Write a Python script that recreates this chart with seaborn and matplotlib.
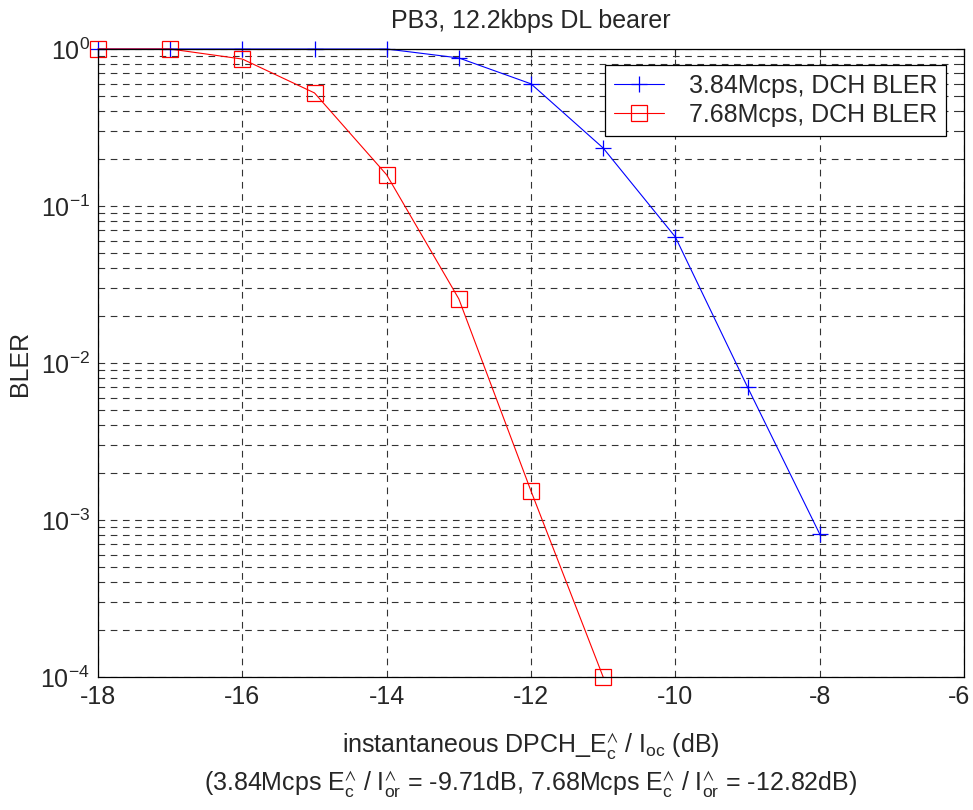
import matplotlib
matplotlib.use("Agg")
import matplotlib.pyplot as plt
import matplotlib.ticker as mticker
import matplotlib.transforms as mtransforms
import numpy as np
import pandas as pd
import seaborn as sns

# data
ecio = [-18, -17, -16, -15, -14, -13, -12, -11, -10, -9, -8]
bler_384 = [1.0, 1.0, 1.0, 1.0, 1.0, 0.877, 0.60, 0.234, 0.0635, 0.00703, 0.000815]

ecio_768 = [-18, -17, -16, -15, -14, -13, -12, -11]
bler_768 = [1.0, 1.0, 0.863, 0.525, 0.158, 0.0256, 0.00153, 0.0001]

label_384 = '3.84Mcps, DCH BLER'
label_768 = '7.68Mcps, DCH BLER'

df = pd.concat([
    pd.DataFrame({'x': ecio, 'y': bler_384, 'series': label_384}),
    pd.DataFrame({'x': ecio_768, 'y': bler_768, 'series': label_768}),
])

sns.set_style("white")
plt.rcParams['font.family'] = ['Liberation Sans', 'DejaVu Sans']
plt.rcParams['mathtext.fontset'] = 'custom'
plt.rcParams['mathtext.rm'] = 'Liberation Sans'
plt.rcParams['mathtext.it'] = 'Liberation Sans'
plt.rcParams['axes.unicode_minus'] = False

FS = 18

fig = plt.figure(figsize=(9.73, 8.10), dpi=100)
ax = fig.add_axes([98 / 973, 1 - 677 / 810, (964 - 98) / 973, (677 - 49) / 810])

sns.lineplot(data=df[df['series'] == label_384], x='x', y='y', ax=ax,
             color='blue', lw=0.8, marker='+', markersize=11, mew=0.9,
             markeredgecolor='blue', clip_on=False, label=label_384)
sns.lineplot(data=df[df['series'] == label_768], x='x', y='y', ax=ax,
             color='red', lw=0.8, marker='s', markersize=11, mew=0.9,
             markerfacecolor='none', markeredgecolor='red', clip_on=False,
             label=label_768)

ax.set_yscale('log')
ax.set_xlim(-18, -6)
ax.set_ylim(1e-4, 1)
ax.set_xticks(np.arange(-18, -5, 2))
ax.yaxis.set_major_locator(mticker.LogLocator(base=10, numticks=10))
ax.yaxis.set_minor_locator(mticker.LogLocator(base=10, subs=np.arange(2, 10), numticks=20))
ax.yaxis.set_minor_formatter(mticker.NullFormatter())
ax.yaxis.set_major_formatter(mticker.FuncFormatter(lambda v, p: r'$\mathregular{10^{%d}}$' % round(np.log10(v))))

ax.grid(True, which='both', color='#333333', linestyle=(0, (6, 5)), linewidth=0.8)
ax.tick_params(which='both', direction='in', top=True, right=True, labelsize=FS, width=0.8)
ax.tick_params(which='major', length=6, pad=6)
ax.tick_params(which='minor', length=3)
for s in ax.spines.values():
    s.set_color('black')
    s.set_linewidth(0.9)

# keep the last x tick label inside the figure
last = ax.get_xticklabels()[-1]
last.set_transform(last.get_transform() + mtransforms.ScaledTranslation(-5 / 100, 0, fig.dpi_scale_trans))

ax.set_title('PB3, 12.2kbps DL bearer', fontsize=FS, pad=15)
ax.set_ylabel('BLER', fontsize=FS, labelpad=6)
ax.set_xlabel(r'instantaneous DPCH_$\mathregular{E_c^{\wedge}}$ / $\mathregular{I_{oc}}$ (dB)' + '\n'
              r'(3.84Mcps $\mathregular{E_c^{\wedge}}$ / $\mathregular{I_{or}^{\wedge}}$ = -9.71dB, '
              r'7.68Mcps $\mathregular{E_c^{\wedge}}$ / $\mathregular{I_{or}^{\wedge}}$ = -12.82dB)',
              fontsize=FS, labelpad=16, linespacing=1.35)

leg = ax.legend(loc='upper right', fontsize=FS, frameon=True, fancybox=False,
                edgecolor='black', framealpha=1, handlelength=2.0,
                bbox_to_anchor=(0.985, 0.982), borderaxespad=0.2,
                borderpad=0.35, labelspacing=0.2, handletextpad=1.0)
leg.get_frame().set_linewidth(0.9)

fig.savefig('out.png', dpi=100)
